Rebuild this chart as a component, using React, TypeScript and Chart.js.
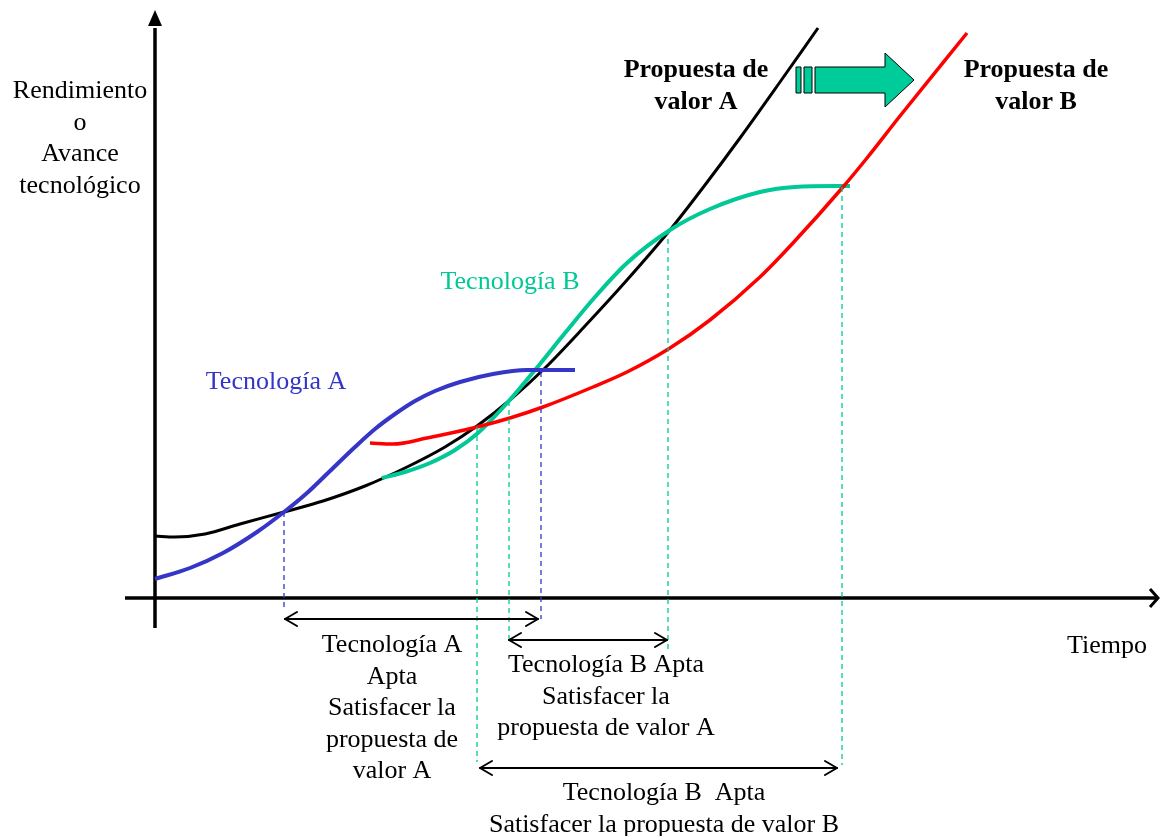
import React, { useEffect, useRef } from "react";
import { Chart, registerables } from "chart.js";

Chart.register(...registerables);

// ---- Data (time units on x, performance units on y) ----
const propuestaA: [number, number][] = [
  [0, 6.2], [2.0, 6.1], [5.0, 6.4], [8.5, 7.4], [12.9, 8.6], [16.8, 9.7], [21.0, 11.2],
  [25.0, 13.0], [29.0, 15.1], [32.2, 17.2], [35.5, 19.8], [39.0, 23.0], [43.0, 27.2],
  [47.2, 31.8], [51.5, 36.8], [55.0, 41.3], [58.5, 46.0], [62.5, 51.6], [66.3, 57.0],
];
const tecnologiaA: [number, number][] = [
  [0, 1.9], [3.5, 3.0], [6.8, 4.5], [10.2, 6.6], [12.9, 8.6], [15.2, 10.5], [17.5, 12.7],
  [20.0, 15.1], [22.0, 16.9], [24.0, 18.4], [26.0, 19.7], [28.0, 20.7], [30.5, 21.6],
  [33.8, 22.4], [37.2, 22.8], [42.0, 22.8],
];
const tecnologiaB: [number, number][] = [
  [22.7, 12.0], [25.0, 12.6], [27.5, 13.5], [30.0, 14.8], [32.3, 16.5], [35.3, 19.6],
  [38.0, 22.8], [41.0, 26.5], [44.0, 30.1], [47.2, 33.5], [51.5, 36.8], [55.5, 38.9],
  [60.5, 40.6], [64.0, 41.1], [69.5, 41.2],
];
const propuestaB: [number, number][] = [
  [21.5, 15.5], [23.8, 15.4], [27.2, 16.0], [32.2, 17.1], [35.5, 18.0], [38.8, 19.1],
  [43.8, 21.1], [47.2, 22.6], [51.5, 25.0], [55.5, 27.8], [60.5, 32.1], [63.8, 35.5],
  [68.8, 41.1], [71.2, 44.0], [74.5, 48.2], [81.2, 56.5],
];

// dashed guides: [x, yTop, yBottom, series]
const guides: [number, number, number, string][] = [
  [12.9, 8.6, -1.3, "A"],
  [32.2, 17.1, -16.4, "B"],
  [35.4, 19.7, -4.2, "B"],
  [38.6, 22.6, -2.1, "A"],
  [51.3, 36.8, -5.2, "B"],
  [68.7, 41.1, -16.7, "B"],
];

// double arrows: [xStart, xEnd, y]
const spans: [number, number, number][] = [
  [13.0, 38.3, -2.1],
  [35.4, 51.2, -4.2],
  [32.5, 68.2, -17.0],
];

const labelYAxis = ["Rendimiento", "o", "Avance", "tecnológico"];
const labelPropA = ["Propuesta de", "valor A"];
const labelPropB = ["Propuesta de", "valor B"];
const labelTecA = ["Tecnología A"];
const labelTecB = ["Tecnología B"];
const labelTiempo = ["Tiempo"];
const labelSpan1 = ["Tecnología A", "Apta", "Satisfacer la", "propuesta de", "valor A"];
const labelSpan2 = ["Tecnología B Apta", "Satisfacer la", "propuesta de valor A"];
const labelSpan3 = ["Tecnología B  Apta", "Satisfacer la propuesta de valor B"];

const BLACK = "#000000";
const BLUE = "#3535c8";
const GREEN = "#00c896";
const RED = "#ff0000";

const textBlocks = [
  { lines: labelYAxis, x: -7.5, y: 50.0, color: BLACK, bold: false },
  { lines: labelPropA, x: 54.1, y: 52.1, color: BLACK, bold: true },
  { lines: labelPropB, x: 88.1, y: 52.1, color: BLACK, bold: true },
  { lines: labelTecB, x: 35.5, y: 30.9, color: GREEN, bold: false },
  { lines: labelTecA, x: 12.1, y: 20.9, color: BLUE, bold: false },
  { lines: labelTiempo, x: 95.2, y: -5.5, color: BLACK, bold: false },
  { lines: labelSpan1, x: 23.7, y: -5.4, color: BLACK, bold: false },
  { lines: labelSpan2, x: 45.1, y: -7.4, color: BLACK, bold: false },
  { lines: labelSpan3, x: 50.9, y: -20.2, color: BLACK, bold: false },
];
const LINE_GAP = 3.15;

// shift arrow (decorative): x positions and y extents in data units
const shiftArrow = { bar1: [64.1, 64.6], bar2: [64.9, 65.7], shaft: 66.0, head: 73.0, tip: 75.9, y: 51.8, shaftHalf: 1.3, headHalf: 2.7 };

const FONT = '"Liberation Serif", "Times New Roman", serif';

const toXY = (arr: [number, number][]) => arr.map(([x, y]) => ({ x, y }));

const decoPlugin = {
  id: "deco",
  beforeDatasetsDraw(chart: any) {
    const ctx = chart.ctx;
    const sx = chart.scales.x;
    const sy = chart.scales.y;
    const X = (v: number) => sx.getPixelForValue(v);
    const Y = (v: number) => sy.getPixelForValue(v);
    ctx.save();
    ctx.strokeStyle = "#000";
    ctx.fillStyle = "#000";
    ctx.lineWidth = 3.5;
    // y axis
    const x0 = X(0);
    ctx.beginPath();
    ctx.moveTo(x0, Y(-3.0));
    ctx.lineTo(x0, Y(57.0));
    ctx.stroke();
    ctx.beginPath();
    ctx.moveTo(x0, Y(58.8));
    ctx.lineTo(x0 - 7, Y(57.2));
    ctx.lineTo(x0 + 7, Y(57.2));
    ctx.closePath();
    ctx.fill();
    // x axis
    const y0 = Y(0);
    ctx.beginPath();
    ctx.moveTo(X(-3.0), y0);
    ctx.lineTo(X(100.3), y0);
    ctx.stroke();
    ctx.lineWidth = 3;
    ctx.beginPath();
    ctx.moveTo(X(99.5), y0 - 9);
    ctx.lineTo(X(100.3), y0);
    ctx.lineTo(X(99.5), y0 + 9);
    ctx.stroke();
    ctx.restore();
  },
  afterDatasetsDraw(chart: any) {
    const ctx = chart.ctx;
    const sx = chart.scales.x;
    const sy = chart.scales.y;
    const X = (v: number) => sx.getPixelForValue(v);
    const Y = (v: number) => sy.getPixelForValue(v);
    ctx.save();
    // double arrows
    ctx.strokeStyle = "#000";
    ctx.lineWidth = 2;
    ctx.lineCap = "round";
    ctx.lineJoin = "round";
    spans.forEach(([a, b, yv]) => {
      const xa = X(a), xb = X(b), yy = Y(yv);
      ctx.beginPath();
      ctx.moveTo(xa, yy);
      ctx.lineTo(xb, yy);
      ctx.stroke();
      ctx.beginPath();
      ctx.moveTo(xa + 12, yy - 7);
      ctx.lineTo(xa, yy);
      ctx.lineTo(xa + 12, yy + 7);
      ctx.moveTo(xb - 12, yy - 7);
      ctx.lineTo(xb, yy);
      ctx.lineTo(xb - 12, yy + 7);
      ctx.stroke();
    });
    // shift arrow
    const ya = Y(shiftArrow.y);
    const sh = Y(shiftArrow.y - shiftArrow.shaftHalf) - ya;
    const hh = Y(shiftArrow.y - shiftArrow.headHalf) - ya;
    ctx.fillStyle = "#00cc99";
    ctx.strokeStyle = "#000";
    ctx.lineWidth = 1;
    ctx.lineCap = "butt";
    ctx.lineJoin = "miter";
    [shiftArrow.bar1, shiftArrow.bar2].forEach(([a, b]) => {
      ctx.beginPath();
      ctx.rect(X(a), ya - sh, X(b) - X(a), 2 * sh);
      ctx.fill();
      ctx.stroke();
    });
    ctx.beginPath();
    ctx.moveTo(X(shiftArrow.shaft), ya - sh);
    ctx.lineTo(X(shiftArrow.head), ya - sh);
    ctx.lineTo(X(shiftArrow.head), ya - hh);
    ctx.lineTo(X(shiftArrow.tip), ya);
    ctx.lineTo(X(shiftArrow.head), ya + hh);
    ctx.lineTo(X(shiftArrow.head), ya + sh);
    ctx.lineTo(X(shiftArrow.shaft), ya + sh);
    ctx.closePath();
    ctx.fill();
    ctx.stroke();
    // texts
    ctx.textAlign = "center";
    ctx.textBaseline = "alphabetic";
    textBlocks.forEach((b) => {
      ctx.font = `${b.bold ? "bold " : ""}26px ${FONT}`;
      ctx.fillStyle = b.color;
      b.lines.forEach((line, i) => {
        ctx.fillText(line, X(b.x), Y(b.y - i * LINE_GAP));
      });
    });
    ctx.restore();
  },
};

export default function App() {
  const ref = useRef<HTMLCanvasElement | null>(null);
  useEffect(() => {
    document.body.style.margin = "0";
    const canvas = ref.current;
    if (!canvas) return;
    const curve = (data: [number, number][], color: string, width: number) => ({
      data: toXY(data),
      borderColor: color,
      borderWidth: width,
      pointRadius: 0,
      showLine: true,
      fill: false,
      cubicInterpolationMode: "monotone" as const,
      borderCapStyle: "butt" as const,
    });
    const guideSets = guides.map(([x, top, bottom, s]) => ({
      data: [{ x, y: top }, { x, y: bottom }],
      borderColor: s === "A" ? BLUE : GREEN,
      borderWidth: 1.3,
      borderDash: [5, 4],
      pointRadius: 0,
      showLine: true,
      fill: false,
    }));
    const chart = new Chart(canvas, {
      type: "scatter",
      data: {
        datasets: [
          ...guideSets,
          curve(propuestaB, RED, 3.5),
          curve(tecnologiaA, BLUE, 4),
          curve(tecnologiaB, GREEN, 4),
          curve(propuestaA, BLACK, 3),
        ] as any,
      },
      options: {
        animation: false,
        responsive: false,
        devicePixelRatio: 1,
        layout: { padding: 0 },
        events: [],
        plugins: { legend: { display: false }, tooltip: { enabled: false } },
        scales: {
          x: { type: "linear", min: -15.5, max: 100.5, display: false },
          y: { type: "linear", min: -23.8, max: 59.8, display: false },
        },
      },
      plugins: [decoPlugin],
    });
    return () => chart.destroy();
  }, []);
  return (
    <div style={{ width: 1160, height: 836, background: "#fff" }}>
      <canvas ref={ref} width={1160} height={836} />
    </div>
  );
}
